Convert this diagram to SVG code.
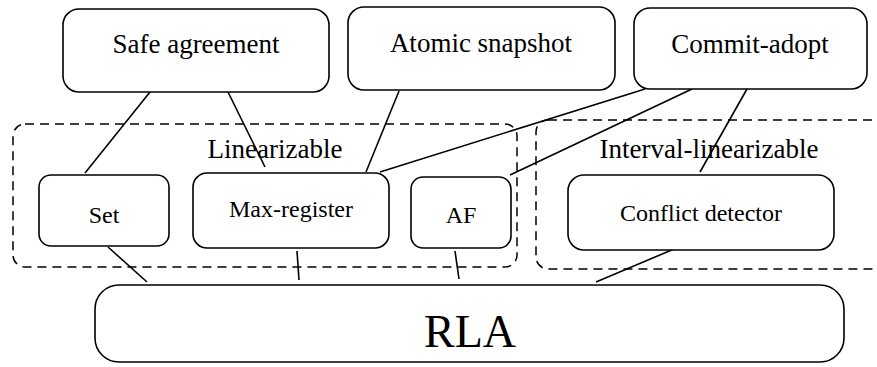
<svg xmlns="http://www.w3.org/2000/svg" width="877" height="367" viewBox="0 0 877 367">
<style>
.box{fill:#fff;stroke:#000;stroke-width:1.6}
.grp{fill:none;stroke:#000;stroke-width:1.5;stroke-dasharray:9 6}
.ln{stroke:#000;stroke-width:1.6;fill:none}
text{font-family:"Liberation Serif","Times New Roman","DejaVu Serif",serif;fill:#000;text-anchor:middle}
.t27{font-size:27px}
.t24{font-size:24px}
</style>
<rect width="877" height="367" fill="#fff"/>
<g id="groups">
<rect class="grp" x="13" y="124" width="504" height="143" rx="12"/>
<rect class="grp" x="536" y="120" width="360" height="149" rx="12"/>
<text class="t27" x="275" y="158" font-family="Liberation Serif, serif">Linearizable</text>
<text class="t27" x="709" y="158">Interval-linearizable</text>
</g>
<g id="connectors">
<line class="ln" x1="150" y1="92" x2="85" y2="173"/>
<line class="ln" x1="228" y1="92" x2="265" y2="167"/>
<line class="ln" x1="399" y1="91" x2="366" y2="172"/>
<line class="ln" x1="645" y1="89" x2="380" y2="172"/>
<line class="ln" x1="692" y1="89" x2="510" y2="175"/>
<line class="ln" x1="747" y1="89" x2="700" y2="172"/>
<line class="ln" x1="108" y1="247" x2="147" y2="282"/>
<line class="ln" x1="297" y1="251" x2="299" y2="280"/>
<line class="ln" x1="455" y1="251" x2="459" y2="279"/>
<line class="ln" x1="674" y1="249" x2="596" y2="282"/>
</g>
<g id="safe-agreement">
<rect class="box" x="63" y="9" width="266" height="83" rx="16"/>
<text class="t27" x="196" y="53">Safe agreement</text>
</g>
<g id="atomic-snapshot">
<rect class="box" x="348" y="7" width="267" height="83" rx="16"/>
<text class="t27" x="481" y="52">Atomic snapshot</text>
</g>
<g id="commit-adopt">
<rect class="box" x="634" y="8" width="233" height="81" rx="16"/>
<text class="t27" x="750" y="53">Commit-adopt</text>
</g>
<g id="set">
<rect class="box" x="39" y="175" width="130" height="71" rx="12"/>
<text class="t24" x="104" y="223">Set</text>
</g>
<g id="max-register">
<rect class="box" x="193" y="173" width="196" height="75" rx="14"/>
<text class="t24" x="291" y="217">Max-register</text>
</g>
<g id="af">
<rect class="box" x="411" y="177" width="100" height="71" rx="12"/>
<text class="t24" x="461" y="223">AF</text>
</g>
<g id="conflict-detector">
<rect class="box" x="568" y="175" width="266" height="75" rx="16"/>
<text class="t24" x="701" y="221">Conflict detector</text>
</g>
<g id="rla">
<rect class="box" x="95" y="285" width="749" height="77" rx="24"/>
<text x="470" y="347" style="font-size:46px">RLA</text>
</g>
</svg>
